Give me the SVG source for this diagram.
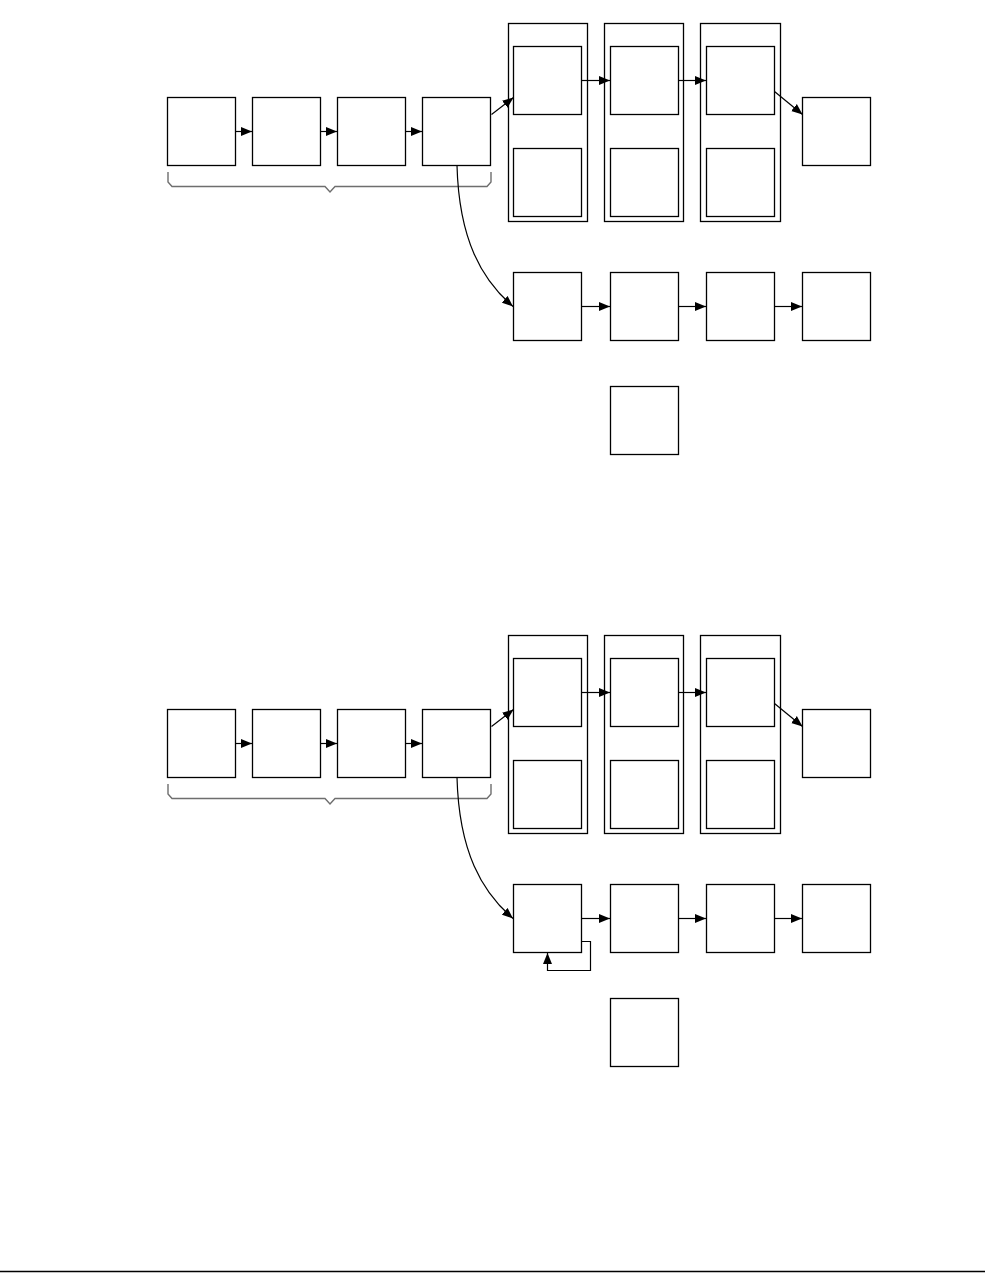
<svg xmlns="http://www.w3.org/2000/svg" width="985" height="1273" viewBox="0 0 985 1273">
<style>
.b{fill:#fff;stroke:#000;stroke-width:1.3}
.c{fill:none;stroke:#000;stroke-width:1.3}
.e{fill:none;stroke:#000;stroke-width:1.2}
.br{fill:none;stroke:#6e6e6e;stroke-width:1.4}
</style>
<defs>
<marker id="ah" viewBox="0 0 11 10" refX="11" refY="5" markerWidth="11" markerHeight="10" markerUnits="userSpaceOnUse" orient="auto">
<path d="M0,0.5 L11,5 L0,9.5 Z" fill="#000"/>
</marker>
</defs>
<rect width="985" height="1273" fill="#fff"/>

<g id="top">
<g id="t-n1"><rect class="b" x="167.5" y="97.5" width="68" height="68"/></g>
<g id="t-n2"><rect class="b" x="252.5" y="97.5" width="68" height="68"/></g>
<g id="t-n3"><rect class="b" x="337.5" y="97.5" width="68" height="68"/></g>
<g id="t-n4"><rect class="b" x="422.5" y="97.5" width="68" height="68"/></g>
<g id="t-c1"><rect class="c" x="508.5" y="23.5" width="79" height="198"/><rect class="b" x="513.5" y="46.5" width="68" height="68"/><rect class="b" x="513.5" y="148.5" width="68" height="68"/></g>
<g id="t-c2"><rect class="c" x="604.5" y="23.5" width="79" height="198"/><rect class="b" x="610.5" y="46.5" width="68" height="68"/><rect class="b" x="610.5" y="148.5" width="68" height="68"/></g>
<g id="t-c3"><rect class="c" x="700.5" y="23.5" width="80" height="198"/><rect class="b" x="706.5" y="46.5" width="68" height="68"/><rect class="b" x="706.5" y="148.5" width="68" height="68"/></g>
<g id="t-n5"><rect class="b" x="802.5" y="97.5" width="68" height="68"/></g>
<g id="t-r1"><rect class="b" x="513.5" y="272.5" width="68" height="68"/></g>
<g id="t-r2"><rect class="b" x="610.5" y="272.5" width="68" height="68"/></g>
<g id="t-r3"><rect class="b" x="706.5" y="272.5" width="68" height="68"/></g>
<g id="t-r4"><rect class="b" x="802.5" y="272.5" width="68" height="68"/></g>
<g id="t-s"><rect class="b" x="610.5" y="386.5" width="68" height="68"/></g>
<g id="t-brace"><path class="br" d="M168,172 V182 L172,186.5 H325 L330,192 L335,186.5 H487 L491,182 V172"/></g>
<g id="t-edges">
<path class="e" d="M235.5,131.5 H252" marker-end="url(#ah)"/>
<path class="e" d="M320.5,131.5 H337" marker-end="url(#ah)"/>
<path class="e" d="M405.5,131.5 H422" marker-end="url(#ah)"/>
<path class="e" d="M491.5,114.5 L513.5,97.5" marker-end="url(#ah)"/>
<path class="e" d="M581.5,80.5 H610" marker-end="url(#ah)"/>
<path class="e" d="M678.5,80.5 H706" marker-end="url(#ah)"/>
<path class="e" d="M774.5,91.5 L802.5,114.5" marker-end="url(#ah)"/>
<path class="e" d="M457,165.5 C459,240 482,280 513,306.5" marker-end="url(#ah)"/>
<path class="e" d="M581.5,306.5 H610" marker-end="url(#ah)"/>
<path class="e" d="M678.5,306.5 H706" marker-end="url(#ah)"/>
<path class="e" d="M774.5,306.5 H802" marker-end="url(#ah)"/>
</g>
</g>

<g id="bottom" transform="translate(0,612)">
<g id="b-n1"><rect class="b" x="167.5" y="97.5" width="68" height="68"/></g>
<g id="b-n2"><rect class="b" x="252.5" y="97.5" width="68" height="68"/></g>
<g id="b-n3"><rect class="b" x="337.5" y="97.5" width="68" height="68"/></g>
<g id="b-n4"><rect class="b" x="422.5" y="97.5" width="68" height="68"/></g>
<g id="b-c1"><rect class="c" x="508.5" y="23.5" width="79" height="198"/><rect class="b" x="513.5" y="46.5" width="68" height="68"/><rect class="b" x="513.5" y="148.5" width="68" height="68"/></g>
<g id="b-c2"><rect class="c" x="604.5" y="23.5" width="79" height="198"/><rect class="b" x="610.5" y="46.5" width="68" height="68"/><rect class="b" x="610.5" y="148.5" width="68" height="68"/></g>
<g id="b-c3"><rect class="c" x="700.5" y="23.5" width="80" height="198"/><rect class="b" x="706.5" y="46.5" width="68" height="68"/><rect class="b" x="706.5" y="148.5" width="68" height="68"/></g>
<g id="b-n5"><rect class="b" x="802.5" y="97.5" width="68" height="68"/></g>
<g id="b-r1"><rect class="b" x="513.5" y="272.5" width="68" height="68"/></g>
<g id="b-r2"><rect class="b" x="610.5" y="272.5" width="68" height="68"/></g>
<g id="b-r3"><rect class="b" x="706.5" y="272.5" width="68" height="68"/></g>
<g id="b-r4"><rect class="b" x="802.5" y="272.5" width="68" height="68"/></g>
<g id="b-s"><rect class="b" x="610.5" y="386.5" width="68" height="68"/></g>
<g id="b-brace"><path class="br" d="M168,172 V182 L172,186.5 H325 L330,192 L335,186.5 H487 L491,182 V172"/></g>
<g id="b-edges">
<path class="e" d="M235.5,131.5 H252" marker-end="url(#ah)"/>
<path class="e" d="M320.5,131.5 H337" marker-end="url(#ah)"/>
<path class="e" d="M405.5,131.5 H422" marker-end="url(#ah)"/>
<path class="e" d="M491.5,114.5 L513.5,97.5" marker-end="url(#ah)"/>
<path class="e" d="M581.5,80.5 H610" marker-end="url(#ah)"/>
<path class="e" d="M678.5,80.5 H706" marker-end="url(#ah)"/>
<path class="e" d="M774.5,91.5 L802.5,114.5" marker-end="url(#ah)"/>
<path class="e" d="M457,165.5 C459,240 482,280 513,306.5" marker-end="url(#ah)"/>
<path class="e" d="M581.5,306.5 H610" marker-end="url(#ah)"/>
<path class="e" d="M678.5,306.5 H706" marker-end="url(#ah)"/>
<path class="e" d="M774.5,306.5 H802" marker-end="url(#ah)"/>
<path class="e" d="M581.5,329.5 H590.5 V358.5 H547.5 V341" marker-end="url(#ah)"/>
</g>
</g>

<line x1="0" y1="1271.5" x2="985" y2="1271.5" stroke="#000" stroke-width="1.5"/>
</svg>
